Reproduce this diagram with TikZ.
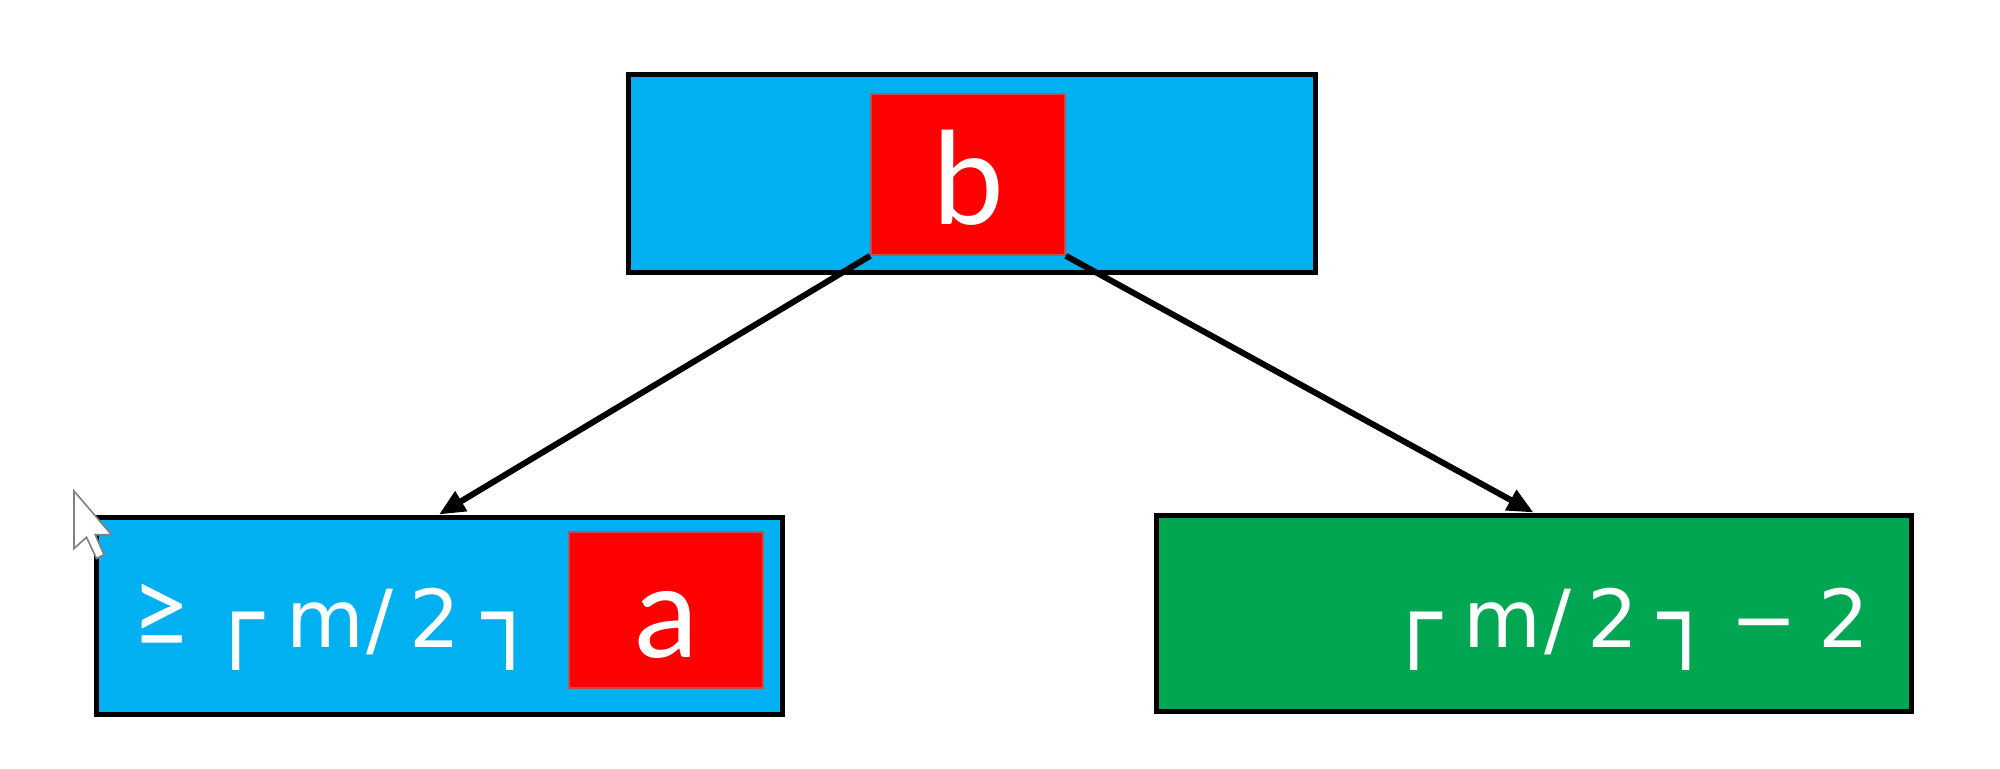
\documentclass[tikz,border=0pt]{standalone}
\usepackage{fontspec}
\setmainfont{Carlito}
\newfontfamily\symfont{DejaVu Sans}
\usetikzlibrary{arrows.meta}
\definecolor{keyblue}{HTML}{00B0F0}
\definecolor{keyred}{HTML}{FF0000}
\definecolor{keygreen}{HTML}{00A651}
\definecolor{keyedge}{RGB}{190,80,80}
\newcommand{\ceilleft}{{\fontsize{46}{46}\selectfont ┌}}
\newcommand{\ceilright}{{\fontsize{46}{46}\selectfont ┐}}
\newcommand{\atleast}{{\fontsize{50}{50}\fontspec{Carlito}\scalebox{1.1}[1.15]{≥}}}
\tikzset{
  pagebox/.style={draw, line width=2.5pt, inner sep=0pt},
  keybox/.style={fill=keyred, draw=keyedge, line width=0.8pt, inner sep=0pt,
    text=white, text depth=0pt, font=\fontsize{68}{68}\selectfont},
  sizetext/.style={inner sep=0pt, text=white, font=\symfont\fontsize{40}{40}\selectfont},
  childarrow/.style={line width=3pt, -{Triangle[length=13pt,width=11pt]}}
}
\begin{document}
\begin{tikzpicture}
    \useasboundingbox (0pt,0pt) rectangle (1000pt,-384.5pt);
    \node (root) [pagebox, fill=keyblue, minimum width=343.5pt, minimum height=99pt] at (485.75pt, -87pt) {};
    \node (b) [keybox, text height=50.5pt, minimum width=97pt, minimum height=80.5pt] at (484pt, -87.25pt) {b};
    \node (left) [pagebox, fill=keyblue, minimum width=343pt, minimum height=98.5pt] at (219.5pt, -307.75pt) {};
    \node (a) [keybox, text height=47pt, minimum width=97pt, minimum height=78pt] at (333pt, -305pt) {a};
    \node (right) [pagebox, fill=keygreen, minimum width=377.5pt, minimum height=98pt] at (766.75pt, -306.5pt) {};
    \node (lefttext) [sizetext, anchor=base west] at (66pt, -323.5pt) {\atleast\hspace{10.75pt}\ceilleft\hspace{11pt}m\hspace{1.5pt}/\hspace{8pt}2\hspace{11pt}\ceilright};
    \node (righttext) [sizetext, anchor=base east] at (935pt, -323.5pt) {\ceilleft\hspace{11pt}m\hspace{1.5pt}/\hspace{8pt}2\hspace{10pt}\ceilright\hspace{8.5pt}−\hspace{10.5pt}2};
    \draw[childarrow] (b.south west) -- (left.north);
    \draw[childarrow] (b.south east) -- (right.north);
    % mouse pointer
    \draw[fill=white, draw=gray, line width=0.8pt, scale=1.25] (29.6pt,-196.4pt) -- ++(0pt,-23pt) -- ++(5pt,4.5pt)
      -- ++(4pt,-8.5pt) -- ++(3pt,1.5pt) -- ++(-3.5pt,8pt) -- ++(6.5pt,0pt) -- cycle;
\end{tikzpicture}
\end{document}
